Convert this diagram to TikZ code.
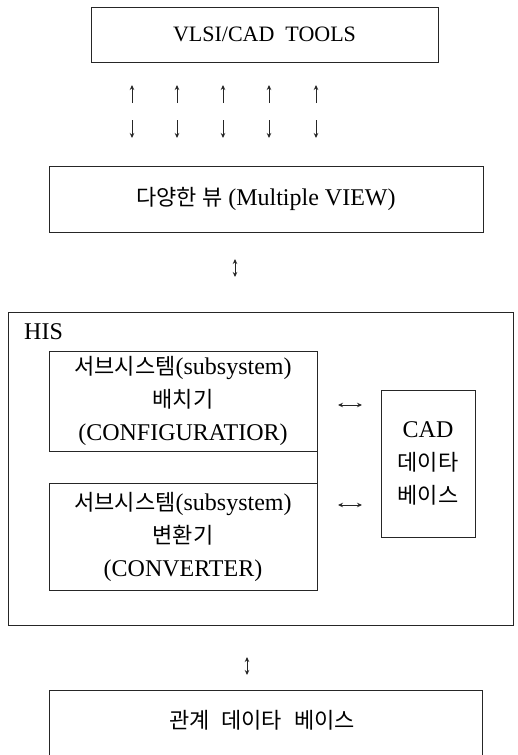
\documentclass[tikz,border=0pt]{standalone}
\usepackage{fontspec}
\setmainfont{Liberation Serif}
\newfontfamily\krfont{Noto Sans CJK KR}
\newcommand{\kor}[1]{{\krfont\fontsize{22}{33}\selectfont #1}}
\usetikzlibrary{arrows.meta}
\definecolor{linec}{gray}{0.15}
\begin{document}
\begin{tikzpicture}[x=1pt,y=-1pt,
  box/.style={draw=linec,line width=0.9pt,inner sep=0pt,outer sep=0pt,
    font=\fontsize{24}{33}\selectfont,align=center},
  txt/.style={font=\fontsize{24}{33}\selectfont,align=center,inner sep=0pt},
  arr/.style={draw=linec,line width=0.9pt,-{Stealth[length=5pt,width=4.5pt]}},
  darr/.style={draw=linec,line width=0.9pt,{Stealth[length=5pt,width=4.5pt]}-{Stealth[length=5pt,width=4.5pt]}}]
\useasboundingbox (0,0) rectangle (517,755);

% top box
\node[box,minimum width=347pt,minimum height=55pt] (tools) at (264.5,34.5) {\fontsize{22}{33}\selectfont VLSI/CAD\ \ TOOLS};

% up / down arrows
\foreach \i/\xx in {1/132,2/177,3/223,4/269,5/316}{
  \coordinate (ua\i) at (\xx,103);
  \coordinate (ub\i) at (\xx,85);
  \coordinate (da\i) at (\xx,120);
  \coordinate (db\i) at (\xx,138);
  \draw[arr] (ua\i) -- (ub\i);
  \draw[arr] (da\i) -- (db\i);
}

% multiple view
\node[box,minimum width=434pt,minimum height=66pt] (view) at (266,199) {\kor{다양한\ 뷰}\ (Multiple VIEW)};

\coordinate (v1) at (235,259);
\coordinate (v2) at (235,277);
\draw[darr] (v1) -- (v2);

% HIS
\node[box,minimum width=505pt,minimum height=313pt] (his) at (260.5,468.5) {};
\node[txt,anchor=west] (hislbl) at (24,332) {HIS};

\node[box,minimum width=268pt,minimum height=100pt] (cfg) at (183,401)
  {\kor{서브시스템}(subsystem)\\ \kor{배치기}\\ (CONFIGURATIOR)};
\node[box,minimum width=268pt,minimum height=107pt] (conv) at (183,536.5)
  {\kor{서브시스템}(subsystem)\\ \kor{변환기}\\ (CONVERTER)};
\draw[linec,line width=0.9pt] (cfg.south east) -- (conv.north east);

\node[box,minimum width=94pt,minimum height=147pt] (cad) at (428,463.5)
  {CAD\\ \kor{데이타}\\ \kor{베이스}};

\coordinate (h1a) at (338,405);
\coordinate (h1b) at (362,405);
\coordinate (h2a) at (338,505);
\coordinate (h2b) at (362,505);
\draw[darr] (h1a) -- (h1b);
\draw[darr] (h2a) -- (h2b);

% bottom
\coordinate (b1) at (247,657);
\coordinate (b2) at (247,675);
\draw[darr] (b1) -- (b2);

\draw[linec,line width=0.9pt] (49,756) -- (49,690) -- (482,690) -- (482,756);
\node[txt] (rel) at (262,720) {\kor{관계\hspace{12pt}데이타\hspace{12pt}베이스}};
\end{tikzpicture}
\end{document}
